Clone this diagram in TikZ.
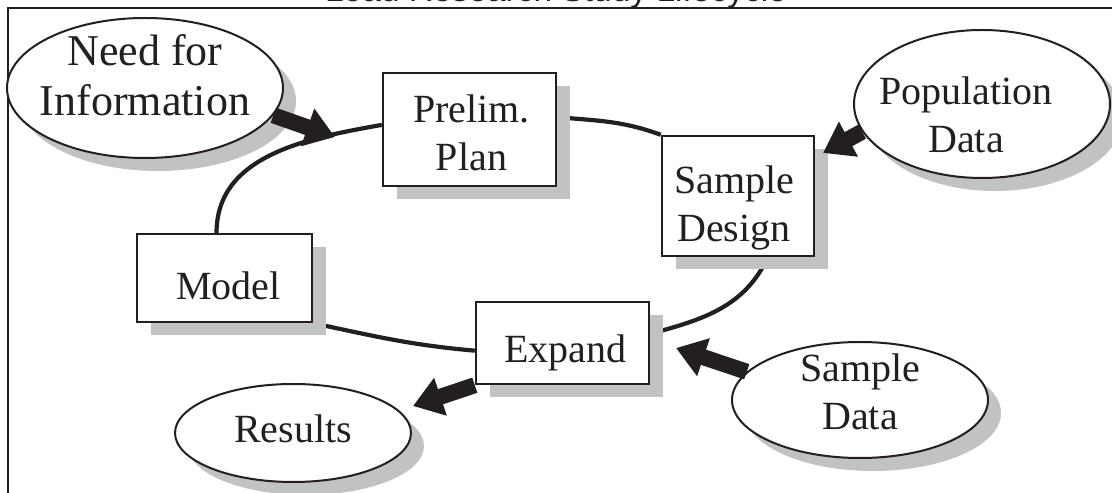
\documentclass[tikz,border=0pt]{standalone}
\usepackage{fontspec}
\setmainfont{Liberation Serif}
\newfontfamily\titlefont{Liberation Sans}
\usetikzlibrary{shapes.geometric,shadows,arrows.meta}
\definecolor{ink}{HTML}{231F20}
\definecolor{shade}{HTML}{C1C2C4}
\pgfdeclarelayer{back}
\pgfsetlayers{back,main}
\begin{document}
\begin{tikzpicture}[x=1pt,y=1pt,
  txt/.style={font=\fontsize{40}{48}\selectfont, text=ink, align=center, inner sep=0pt},
  stepbox/.style={draw=ink, line width=2.4pt, fill=white, rectangle, inner sep=0pt,
    drop shadow={shadow xshift=14pt, shadow yshift=-13pt, fill=shade, opacity=1}},
  bubble/.style={draw=ink, line width=2pt, fill=white, ellipse, inner sep=0pt,
    drop shadow={shadow xshift=13pt, shadow yshift=-13pt, fill=shade, opacity=1}},
  loop/.style={draw=ink, line width=4.2pt},
  feed/.style={draw=ink, line width=16pt, -{Triangle[length=29pt,width=38pt]}},
]
\useasboundingbox (0,0) rectangle (1112,493);
\clip (0,0) rectangle (1112,493);

% frame and heading
\draw[ink, line width=2.7pt] (8,-10) -- (8,485) -- (1130,485);
\node[font=\titlefont\fontsize{33.5}{40}\selectfont, text=ink, anchor=base, inner sep=0pt]
  (title) at (556,491) {Load Research Study Lifecycle};

% inputs and outputs
\node[bubble, minimum width=276pt, minimum height=140pt,
  label={[txt, font=\fontsize{44}{50}\selectfont, yshift=13pt]center:Need for\\Information}]
  (need) at (145,405) {};
\node[bubble, minimum width=256pt, minimum height=148pt,
  label={[txt, xshift=-16pt, yshift=-11pt]center:Population\\Data}] (popdata) at (982,389) {};
\node[bubble, minimum width=256pt, minimum height=116pt,
  label={[txt, yshift=8pt]center:Sample\\Data}] (smpdata) at (860,93) {};
\node[bubble, minimum width=236pt, minimum height=98pt,
  label={[txt, yshift=4pt]center:Results}] (results) at (293,60) {};

% study steps
\node[stepbox, minimum width=173pt, minimum height=113pt,
  label={[txt, xshift=2pt, yshift=-3pt]center:Prelim.\\Plan}] (prelim) at (469.5,363.5) {};
\node[stepbox, minimum width=152pt, minimum height=120pt,
  label={[txt, xshift=-4pt, yshift=-12pt]center:Sample\\Design}] (design) at (738,297) {};
\node[stepbox, minimum width=175pt, minimum height=88pt,
  label={[txt, xshift=4pt, yshift=-8pt]center:Model}] (model) at (224.5,215) {};
\node[stepbox, minimum width=173pt, minimum height=82pt,
  label={[txt, xshift=3pt, yshift=-10pt]center:Expand}] (expand) at (562.5,150) {};

% the cycle behind the steps
\begin{pgfonlayer}{back}
  \draw[loop] (model.100) to[out=90, in=190] (prelim.177);
  \draw[loop] (prelim.8) to[out=-5, in=160] (design.north west);
  \draw[loop] (design.-64) to[out=-115, in=15] (expand.6);
  \draw[loop] (expand.185) to[out=175, in=-12] (model.south east);
\end{pgfonlayer}

% feeds into and out of the cycle
\coordinate (tipA) at (335,356);
\coordinate (tipB) at (823,340);
\coordinate (tipC) at (676,145);
\coordinate (tipD) at (413,87);
\draw[feed] (need.-12) -- (tipA);
\draw[feed] (popdata.193) -- (tipB);
\draw[feed] (smpdata.166) -- (tipC);
\draw[feed] (expand.south west) -- (tipD);
\end{tikzpicture}
\end{document}
